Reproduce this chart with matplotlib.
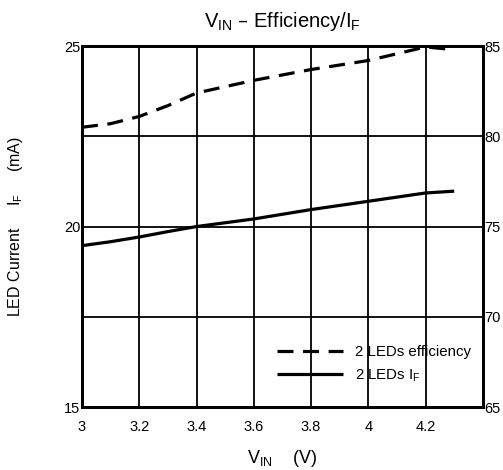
import matplotlib.pyplot as plt

plt.rcParams['font.family'] = ['Liberation Sans', 'DejaVu Sans']

# DATA
vin = [3.0, 3.1, 3.2, 3.3, 3.4, 3.6, 3.8, 4.0, 4.2, 4.3]
efficiency = [80.5, 80.7, 81.1, 81.7, 82.4, 83.1, 83.7, 84.2, 84.95, 84.8]
led_current = [19.47, 19.58, 19.71, 19.86, 20.0, 20.21, 20.47, 20.70, 20.93, 20.98]

x_ticks = [3, 3.2, 3.4, 3.6, 3.8, 4, 4.2]
x_tick_labels = ["3", "3.2", "3.4", "3.6", "3.8", "4", "4.2"]
left_ticks = [15, 20, 25]
right_ticks = [65, 70, 75, 80, 85]

fig = plt.figure(figsize=(5.03, 4.70), dpi=100)
ax = fig.add_axes([0.163, 0.134, 0.797, 0.768])
ax2 = ax.twinx()

# PLOT THE DATA
line_i, = ax.plot(vin, led_current, color="black", lw=2.3, solid_capstyle="butt")
line_e, = ax2.plot(vin, efficiency, color="black", lw=2.3, dashes=(5, 3))

ax.set_xlim(3, 4.4)
ax.set_ylim(15, 25)
ax2.set_ylim(65, 85)

# GRID LINES
for x in x_ticks[1:]:
    ax.axvline(x, color="black", lw=1.3, zorder=0)
for y in [17.5, 20, 22.5]:
    ax.axhline(y, color="black", lw=1.3, zorder=0)

ax.set_xticks(x_ticks)
ax.set_xticklabels(x_tick_labels)
ax.set_yticks(left_ticks)
ax2.set_yticks(right_ticks)
ax.tick_params(length=0, labelsize=10.5)
ax2.tick_params(length=0, labelsize=10.5, pad=1)
ax.tick_params(axis="x", pad=9)
ax.tick_params(axis="y", pad=1)

for a in (ax, ax2):
    for s in a.spines.values():
        s.set_linewidth(2)

# MAKE THE PLOTS LOOK NICE
cx = 0.5615
fig.text(cx, 0.943, r"$\mathregular{V_{IN}}$ – Efficiency/$\mathregular{I_F}$",
         ha="center", va="baseline", fontsize=14.5)
fig.text(cx, 0.015, r"$\mathregular{V_{IN}}$    (V)", ha="center", va="baseline", fontsize=13)
fig.text(0.03, 0.519, r"LED Current     $\mathregular{I_F}$     (mA)", rotation=90,
         ha="center", va="center", fontsize=11.5)

ax.legend([line_e, line_i], ["2 LEDs efficiency", r"2 LEDs $\mathregular{I_F}$"],
          loc="lower right", bbox_to_anchor=(1.005, 0.026), frameon=False,
          fontsize=10.8, handlelength=4.4, handletextpad=0.85, labelspacing=0.55)

plt.savefig("out.png")
